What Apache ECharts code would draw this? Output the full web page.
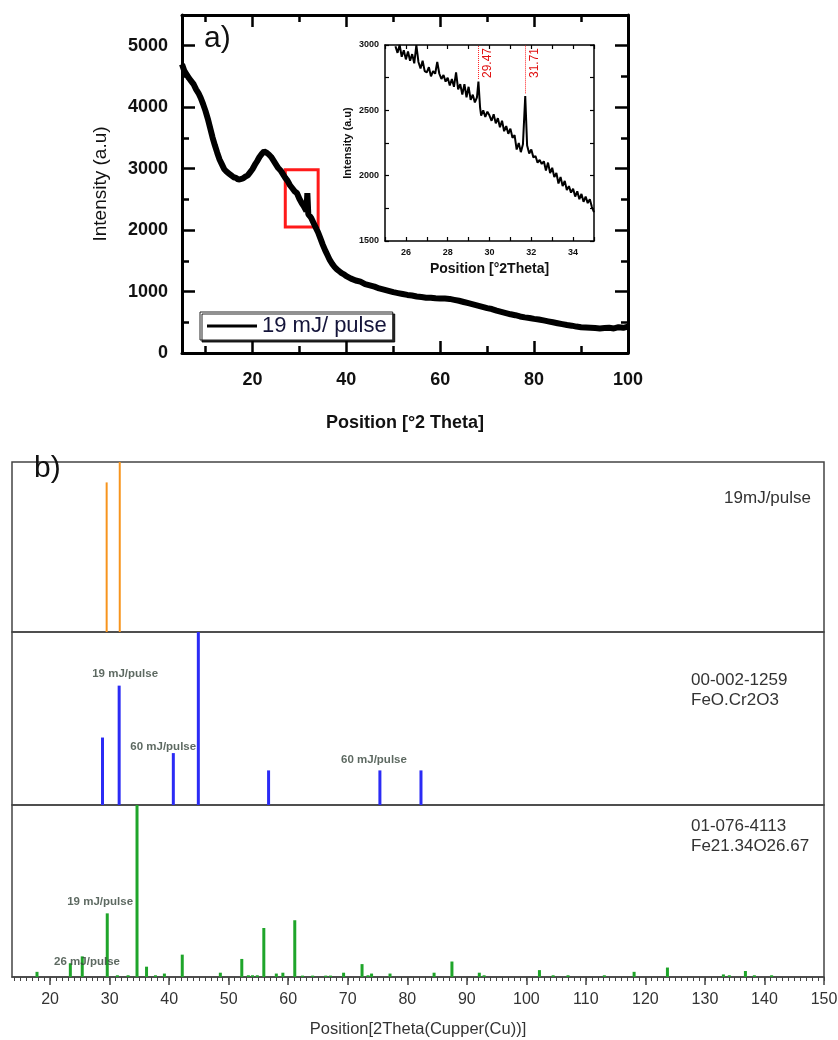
<!DOCTYPE html>
<html><head><meta charset="utf-8">
<script src="https://cdn.jsdelivr.net/npm/echarts@6/dist/echarts.min.js"></script>
<style>html,body{margin:0;padding:0;background:#fff}#c{width:838px;height:1040px}</style>
</head><body><div id="c"></div>
<script>
// ---------- DATA ----------
const mainCurve = [[5,4700],[5.5,4590],[6,4530],[6.5,4470],[7,4420],[7.5,4370],[8,4290],[8.5,4230],[9,4150],[9.5,4050],[10,3940],[10.5,3810],[11,3660],[11.5,3510],[12,3380],[12.5,3260],[13,3150],[13.5,3070],[14,2990],[14.5,2950],[15,2920],[15.5,2890],[16,2860],[16.5,2850],[17,2820],[17.5,2830],[18,2840],[18.5,2870],[19,2890],[19.5,2940],[20,2990],[20.5,3060],[21,3120],[21.5,3190],[22,3240],[22.5,3280],[23,3260],[23.5,3230],[24,3190],[24.5,3130],[25,3070],[25.5,3010],[26,2970],[26.5,2910],[27,2850],[27.5,2800],[28,2730],[28.5,2680],[29,2630],[29.5,2600],[30,2510],[30.5,2440],[31,2380],[31.5,2310],[31.7,2600],[31.9,2260],[32.5,2200],[33,2120],[33.5,2040],[34,1960],[34.5,1860],[35,1760],[35.5,1670],[36,1590],[36.5,1510],[37,1450],[37.5,1400],[38,1360],[38.5,1330],[39,1300],[39.5,1280],[40,1250],[41,1210],[42,1180],[43,1160],[44,1120],[45,1100],[46,1080],[47,1050],[48,1030],[49,1010],[50,990],[51,975],[52,960],[53,945],[54,935],[55,920],[56,910],[57,900],[58,900],[59,890],[60,885],[61,885],[62,880],[63,865],[64,850],[65,830],[66,810],[67,790],[68,770],[69,750],[70,730],[71,715],[72,690],[73,670],[74,650],[75,630],[76,615],[77,595],[78,580],[79,570],[80,555],[81,545],[82,530],[83,515],[84,500],[85,485],[86,470],[87,455],[88,445],[89,430],[90,420],[91,415],[92,410],[93,405],[94,400],[95,405],[96,410],[97,400],[98,420],[99,410],[100,430]];

const insetCurve = [[25.5,2990],[25.6,2940],[25.7,3000],[25.8,2910],[25.9,2960],[26.0,2890],[26.1,2950],[26.2,2880],[26.3,2930],[26.4,2860],[26.5,3000],[26.6,2870],[26.7,2820],[26.8,2880],[26.9,2800],[27.0,2790],[27.1,2830],[27.2,2760],[27.3,2800],[27.4,2780],[27.5,2870],[27.6,2780],[27.7,2740],[27.8,2770],[27.9,2720],[28.0,2750],[28.1,2690],[28.2,2740],[28.3,2680],[28.4,2790],[28.5,2660],[28.6,2700],[28.7,2620],[28.8,2700],[28.9,2600],[29.0,2680],[29.1,2580],[29.2,2620],[29.3,2560],[29.4,2600],[29.47,2720],[29.55,2520],[29.6,2460],[29.7,2500],[29.8,2450],[29.9,2490],[30.0,2460],[30.1,2420],[30.2,2470],[30.3,2400],[30.4,2440],[30.5,2370],[30.6,2420],[30.7,2340],[30.8,2380],[30.9,2320],[31.0,2360],[31.1,2290],[31.2,2310],[31.3,2200],[31.4,2250],[31.5,2180],[31.6,2240],[31.71,2610],[31.8,2230],[31.9,2170],[32.0,2200],[32.1,2140],[32.2,2150],[32.3,2100],[32.4,2120],[32.5,2090],[32.6,2110],[32.7,2040],[32.8,2100],[32.9,2020],[33.0,2060],[33.1,1990],[33.2,2020],[33.3,1940],[33.4,1990],[33.5,1920],[33.6,1960],[33.7,1890],[33.8,1920],[33.9,1870],[34.0,1900],[34.1,1840],[34.2,1880],[34.3,1820],[34.4,1860],[34.5,1800],[34.6,1840],[34.7,1790],[34.8,1820],[34.9,1760],[35.0,1720]];

const insetPeakPos = [29.47, 31.71];
const insetPeakTop = [2740, 2630];
const insetPeakLabels = ['29.47', '31.71'];
const zoomBox = [[27, 2050], [34, 2980]];
const legendName = '19 mJ/ pulse';

const mainXLabels = [20, 40, 60, 80, 100];
const mainXMinor = [10, 30, 50, 70, 90];
const mainYLabels = [0, 1000, 2000, 3000, 4000, 5000];
const mainYMinor = [500, 1500, 2500, 3500, 4500];
const insetXLabels = [26, 28, 30, 32, 34];
const insetYLabels = [1500, 2000, 2500, 3000];

const samplePeaks = [[29.5, 88], [31.7, 100]];
const feCrPeaks = [[28.8, 39], [31.6, 69], [40.7, 30], [44.9, 100], [56.7, 20], [75.4, 20], [82.3, 20]];
const fe3o4Peaks = [[17.8,3],[23.4,8],[25.4,12],[29.6,37],[31.3,1],[33.1,1],[34.6,100],[36.2,6],[37.7,1],[39.2,2],[42.2,13],[48.6,2.5],[52.2,10.5],[53.3,1],[54.0,1],[54.8,1],[55.9,28.5],[58.0,2],[59.1,2.5],[61.1,33],[62.4,0.8],[64.1,0.8],[66.3,0.8],[67.1,0.8],[69.3,2.5],[72.4,7.5],[73.4,1],[74.0,2],[77.1,2],[84.5,2.5],[87.5,9],[92.1,2.5],[92.9,1],[102.2,4],[104.5,1],[107.0,1],[113.1,1],[118.1,3],[123.7,5.5],[133.1,1.5],[134.1,1],[136.8,3.5],[138.3,1],[141.2,1]];
const feCrNotes = [{name:'19 mJ/pulse', value:[32.6, 76]}, {name:'60 mJ/pulse', value:[39.0, 33.5]}, {name:'60 mJ/pulse', value:[74.4, 26]}];
const fe3o4Notes = [{name:'19 mJ/pulse', value:[28.4, 43.6]}, {name:'26 mJ/pulse', value:[26.2, 8.7]}];
const bXLabels = [20,30,40,50,60,70,80,90,100,110,120,130,140,150];
const bXMinor = [];
for (let v = 14; v <= 150; v++) bXMinor.push(v);

// ---------- CHART ----------
const FF = "'Liberation Sans', Arial, Helvetica, sans-serif";
const plain = v => String(v);
function vAxis(grid, pos, min, max, o) {
  return Object.assign({
    type: 'value', gridIndex: grid, position: pos, min: min, max: max,
    splitLine: {show: false},
    axisLine: {show: false, onZero: false},
    axisTick: {show: false},
    axisLabel: {show: false}
  }, o || {});
}
const blackLine = w => ({show: true, onZero: false, lineStyle: {color: '#000', width: w}});
const tick = (vals, len, w, inside) => ({show: true, inside: inside !== false, length: len, customValues: vals, lineStyle: {color: '#000', width: w}});

const xAxes = [
  vAxis(0, 'bottom', 5, 100, {axisLine: blackLine(3), axisTick: tick(mainXLabels, 12, 2.5),
    axisLabel: {show: true, customValues: mainXLabels, formatter: plain, fontFamily: FF, fontWeight: 'bold', fontSize: 18, color: '#111', margin: 18},
    name: 'Position [°2 Theta]', nameLocation: 'middle', nameGap: 61,
    nameTextStyle: {fontFamily: FF, fontWeight: 'bold', fontSize: 18, color: '#111'}}),
  vAxis(0, 'bottom', 5, 100, {axisTick: tick(mainXMinor, 7, 2.5)}),
  vAxis(0, 'top', 5, 100, {axisLine: blackLine(3), axisTick: tick(mainXLabels, 12, 2.5)}),
  vAxis(0, 'top', 5, 100, {axisTick: tick(mainXMinor, 7, 2.5)}),
  vAxis(1, 'bottom', 25, 35, {axisLine: blackLine(1.5), interval: 1,
    axisTick: {show: true, inside: true, length: 4, lineStyle: {color: '#000', width: 1.2}},
    axisLabel: {show: true, customValues: insetXLabels, formatter: plain, fontFamily: FF, fontWeight: 'bold', fontSize: 9, color: '#111', margin: 7},
    name: 'Position [°2Theta]', nameLocation: 'middle', nameGap: 21,
    nameTextStyle: {fontFamily: FF, fontWeight: 'bold', fontSize: 14, color: '#111'}}),
  vAxis(1, 'top', 25, 35, {axisLine: blackLine(1.5), interval: 1,
    axisTick: {show: true, inside: true, length: 4, lineStyle: {color: '#000', width: 1.2}}}),
  vAxis(2, 'bottom', 13.6, 150, {}),
  vAxis(3, 'bottom', 13.6, 150, {}),
  vAxis(4, 'bottom', 13.6, 150, {
    axisLine: {show: true, onZero: false, lineStyle: {color: '#444', width: 1.5}},
    axisTick: {show: true, inside: false, length: 8, customValues: bXLabels, lineStyle: {color: '#444', width: 1.5}},
    axisLabel: {show: true, customValues: bXLabels, formatter: plain, fontFamily: FF, fontSize: 16, color: '#333', margin: 15},
    name: 'Position[2Theta(Cupper(Cu))]', nameLocation: 'middle', nameGap: 44,
    nameTextStyle: {fontFamily: FF, fontSize: 16.5, color: '#333'}}),
  vAxis(4, 'bottom', 13.6, 150, {axisTick: {show: true, inside: false, length: 4, customValues: bXMinor, lineStyle: {color: '#444', width: 1}}})
];
const yAxes = [
  vAxis(0, 'left', 0, 5500, {axisLine: blackLine(3), axisTick: tick(mainYLabels, 13, 2.5),
    axisLabel: {show: true, customValues: mainYLabels, formatter: plain, fontFamily: FF, fontWeight: 'bold', fontSize: 18, color: '#111', margin: 14},
    name: 'Intensity (a.u)', nameLocation: 'middle', nameGap: 72,
    nameTextStyle: {fontFamily: FF, fontSize: 19, color: '#111'}}),
  vAxis(0, 'left', 0, 5500, {axisTick: tick(mainYMinor, 7, 2.5)}),
  vAxis(0, 'right', 0, 5500, {axisLine: blackLine(3), axisTick: tick(mainYLabels, 13, 2.5)}),
  vAxis(0, 'right', 0, 5500, {axisTick: tick(mainYMinor, 7, 2.5)}),
  vAxis(1, 'left', 1500, 3000, {axisLine: blackLine(1.5), interval: 250,
    axisTick: {show: true, inside: true, length: 4, lineStyle: {color: '#000', width: 1.2}},
    axisLabel: {show: true, customValues: insetYLabels, formatter: plain, fontFamily: FF, fontWeight: 'bold', fontSize: 9, color: '#111', margin: 6},
    name: 'Intensity (a.u)', nameLocation: 'middle', nameGap: 32,
    nameTextStyle: {fontFamily: FF, fontWeight: 'bold', fontSize: 11, color: '#111'}}),
  vAxis(1, 'right', 1500, 3000, {axisLine: blackLine(1.5), interval: 250,
    axisTick: {show: true, inside: true, length: 4, lineStyle: {color: '#000', width: 1.2}}}),
  vAxis(2, 'left', 0, 100, {}),
  vAxis(3, 'left', 0, 100, {}),
  vAxis(4, 'left', 0, 100, {})
];

const bGrid = {show: true, borderColor: '#444', borderWidth: 1.5, backgroundColor: 'transparent', outerBoundsMode: 'none', containLabel: false};
const noteLabel = {show: true, formatter: '{b}', position: 'inside', fontFamily: FF, fontWeight: 'bold', fontSize: 11.5, color: '#34433a'};

const option = {
  animation: false,
  backgroundColor: '#fff',
  title: [
    {text: 'a)', left: 204, top: 24, padding: 0, textStyle: {fontFamily: FF, fontSize: 30, fontWeight: 'normal', color: '#111'}},
    {text: 'b)', left: 34, top: 454, padding: 0, textStyle: {fontFamily: FF, fontSize: 30, fontWeight: 'normal', color: '#111'}},
    {text: '19mJ/pulse', right: 27, top: 488, padding: 0, textStyle: {fontFamily: FF, fontSize: 17, fontWeight: 'normal', color: '#333', lineHeight: 20}},
    {text: '00-002-1259\nFeO.Cr2O3', left: 691, top: 670, padding: 0, textStyle: {fontFamily: FF, fontSize: 17, fontWeight: 'normal', color: '#333', lineHeight: 20}},
    {text: '01-076-4113\nFe21.34O26.67', left: 691, top: 816, padding: 0, textStyle: {fontFamily: FF, fontSize: 17, fontWeight: 'normal', color: '#333', lineHeight: 20}}
  ],
  legend: {
    data: [{name: legendName, icon: 'rect'}], left: 200, top: 312, orient: 'horizontal',
    itemWidth: 50, itemHeight: 3, padding: [3, 6, 3, 7],
    textStyle: {fontFamily: FF, fontSize: 22, color: '#14143a'},
    itemStyle: {color: '#000'},
    borderColor: '#222', borderWidth: 1, backgroundColor: '#fff',
    shadowColor: 'rgba(0,0,0,0.85)', shadowOffsetX: 2, shadowOffsetY: 2, shadowBlur: 0
  },
  grid: [
    {left: 182, top: 15, width: 446, height: 338, outerBoundsMode: 'none', containLabel: false},
    {left: 385, top: 45, width: 209, height: 196, outerBoundsMode: 'none', containLabel: false},
    Object.assign({left: 12, top: 462, width: 812, height: 170}, bGrid),
    Object.assign({left: 12, top: 632, width: 812, height: 173}, bGrid),
    Object.assign({left: 12, top: 805, width: 812, height: 172}, bGrid)
  ],
  xAxis: xAxes,
  yAxis: yAxes,
  series: [
    {type: 'line', name: legendName, xAxisIndex: 0, yAxisIndex: 0, data: mainCurve, symbol: 'none',
      lineStyle: {color: '#000', width: 6}, itemStyle: {color: '#000'}, z: 3,
      markArea: {silent: true, itemStyle: {color: 'rgba(0,0,0,0)', borderColor: '#ff1a1a', borderWidth: 3},
        data: [[{coord: zoomBox[0]}, {coord: zoomBox[1]}]]}},
    {type: 'line', name: 'inset', xAxisIndex: 4, yAxisIndex: 4, data: insetCurve, symbol: 'none',
      lineStyle: {color: '#000', width: 2}, z: 3,
      markLine: {silent: true, symbol: 'none',
        lineStyle: {color: '#ff2020', type: 'dotted', width: 1},
        label: {show: true, position: 'insideEndBottom', fontFamily: FF, fontSize: 12, color: '#e01010', distance: 3},
        data: insetPeakPos.map((p, i) => [{coord: [p, insetPeakTop[i]], name: insetPeakLabels[i], label: {formatter: insetPeakLabels[i]}}, {coord: [p, 3000]}])}},
    {type: 'bar', name: 'sample', xAxisIndex: 6, yAxisIndex: 6, data: samplePeaks, barWidth: 2, itemStyle: {color: '#f7941d'}},
    {type: 'bar', name: 'FeO.Cr2O3', xAxisIndex: 7, yAxisIndex: 7, data: feCrPeaks, barWidth: 3, itemStyle: {color: '#2b2bf5'}},
    {type: 'bar', name: 'Fe21.34O26.67', xAxisIndex: 8, yAxisIndex: 8, data: fe3o4Peaks, barWidth: 3, itemStyle: {color: '#1fa52a'}},
    {type: 'scatter', name: 'notes1', xAxisIndex: 7, yAxisIndex: 7, data: feCrNotes, symbolSize: 0, label: noteLabel, z: 5},
    {type: 'scatter', name: 'notes2', xAxisIndex: 8, yAxisIndex: 8, data: fe3o4Notes, symbolSize: 0, label: noteLabel, z: 5}
  ]
};
const chart = echarts.init(document.getElementById('c'), null, {renderer: 'canvas'});
chart.setOption(option);
</script>
</body></html>
